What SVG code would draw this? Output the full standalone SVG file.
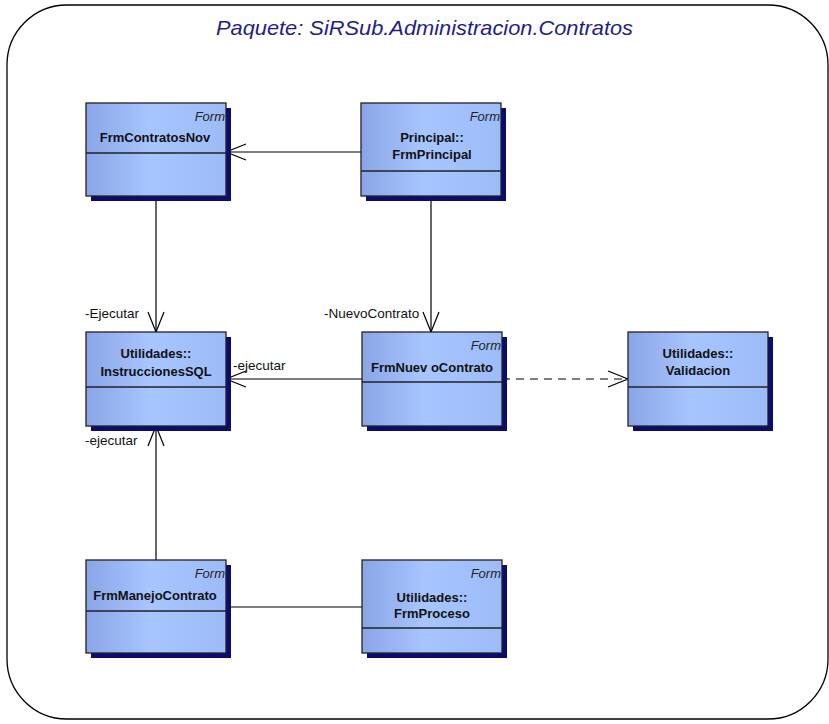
<svg xmlns="http://www.w3.org/2000/svg" width="829" height="724" viewBox="0 0 829 724">
<defs>
<linearGradient id="g" x1="0" y1="0" x2="1" y2="0">
<stop offset="0" stop-color="#8aa5e6"/>
<stop offset="0.45" stop-color="#a7c5ff"/>
<stop offset="1" stop-color="#9dbbf7"/>
</linearGradient>
<marker id="arr" viewBox="0 0 22 20" refX="21" refY="10" markerWidth="22" markerHeight="20" markerUnits="userSpaceOnUse" orient="auto">
<path d="M1,2 L21,10 L1,18" fill="none" stroke="#000" stroke-width="1.2"/>
</marker>
</defs>
<style>
.sh{fill:#0b0b70}
.bx{fill:url(#g);stroke:#222;stroke-width:1.3}
.dv{stroke:#222;stroke-width:1.3}
.nm{font-family:"Liberation Sans",Arial,sans-serif;font-weight:bold;font-size:13px;fill:#111;text-anchor:middle}
.st{font-family:"Liberation Sans",Arial,sans-serif;font-style:italic;font-size:13px;fill:#222;text-anchor:end}
.lb{font-family:"Liberation Sans",Arial,sans-serif;font-size:13.5px;fill:#111}
.ln{fill:none;stroke:#000;stroke-width:1.2}
</style>
<rect width="829" height="724" fill="#fff"/>
<rect x="7" y="5" width="821" height="714" rx="60" ry="60" fill="#fff" stroke="#000" stroke-width="1.3"/>
<text x="216" y="35" font-family="'Liberation Sans',Arial,sans-serif" font-style="italic" font-size="21" fill="#1e1e8c" textLength="417" lengthAdjust="spacingAndGlyphs">Paquete: SiRSub.Administracion.Contratos</text>

<g id="connectors">
<line class="ln" x1="361" y1="152" x2="226" y2="152" marker-end="url(#arr)"/>
<line class="ln" x1="156" y1="196" x2="156" y2="332" marker-end="url(#arr)"/>
<line class="ln" x1="431" y1="196" x2="431" y2="332" marker-end="url(#arr)"/>
<line class="ln" x1="362" y1="379" x2="226" y2="379" marker-end="url(#arr)"/>
<line class="ln" x1="502" y1="379" x2="628" y2="379" stroke-dasharray="8,6" marker-end="url(#arr)"/>
<line class="ln" x1="156" y1="560" x2="156" y2="426" marker-end="url(#arr)"/>
<line class="ln" x1="226" y1="607" x2="362" y2="607"/>
<text class="lb" x="85" y="318">-Ejecutar</text>
<text class="lb" x="324" y="318">-NuevoContrato</text>
<text class="lb" x="233" y="370">-ejecutar</text>
<text class="lb" x="85" y="445">-ejecutar</text>
</g>

<g id="FrmContratosNov">
<rect class="sh" x="91" y="108" width="140" height="93"/>
<rect class="bx" x="86" y="103" width="140" height="93"/>
<line class="dv" x1="86" y1="153" x2="226" y2="153"/>
<text class="st" x="225" y="121">Form</text>
<text class="nm" x="155" y="142">FrmContratosNov</text>
</g>

<g id="FrmPrincipal">
<rect class="sh" x="366" y="108" width="140" height="93"/>
<rect class="bx" x="361" y="103" width="140" height="93"/>
<line class="dv" x1="361" y1="171" x2="501" y2="171"/>
<text class="st" x="500" y="121">Form</text>
<text class="nm" x="432" y="142">Principal::</text>
<text class="nm" x="432" y="159">FrmPrincipal</text>
</g>

<g id="InstruccionesSQL">
<rect class="sh" x="91" y="337" width="140" height="94"/>
<rect class="bx" x="86" y="332" width="140" height="94"/>
<line class="dv" x1="86" y1="387" x2="226" y2="387"/>
<text class="nm" x="156" y="358">Utilidades::</text>
<text class="nm" x="156" y="376">InstruccionesSQL</text>
</g>

<g id="FrmNuevoContrato">
<rect class="sh" x="367" y="337" width="140" height="94"/>
<rect class="bx" x="362" y="332" width="140" height="94"/>
<line class="dv" x1="362" y1="382" x2="502" y2="382"/>
<text class="st" x="501" y="350">Form</text>
<text class="nm" x="432" y="372">FrmNuev oContrato</text>
</g>

<g id="Validacion">
<rect class="sh" x="633" y="337" width="140" height="94"/>
<rect class="bx" x="628" y="332" width="140" height="94"/>
<line class="dv" x1="628" y1="387" x2="768" y2="387"/>
<text class="nm" x="698" y="358">Utilidades::</text>
<text class="nm" x="698" y="375">Validacion</text>
</g>

<g id="FrmManejoContrato">
<rect class="sh" x="91" y="565" width="140" height="93"/>
<rect class="bx" x="86" y="560" width="140" height="93"/>
<line class="dv" x1="86" y1="611" x2="226" y2="611"/>
<text class="st" x="225" y="578">Form</text>
<text class="nm" x="155" y="600">FrmManejoContrato</text>
</g>

<g id="FrmProceso">
<rect class="sh" x="367" y="565" width="140" height="93"/>
<rect class="bx" x="362" y="560" width="140" height="93"/>
<line class="dv" x1="362" y1="628" x2="502" y2="628"/>
<text class="st" x="501" y="578">Form</text>
<text class="nm" x="432" y="602">Utilidades::</text>
<text class="nm" x="432" y="618">FrmProceso</text>
</g>
</svg>
